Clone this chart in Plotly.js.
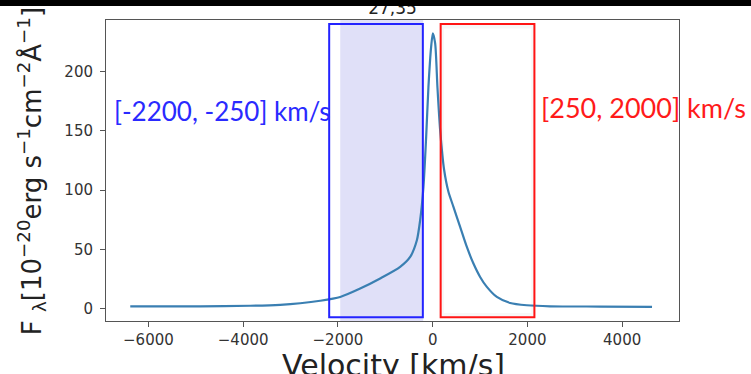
<!DOCTYPE html>
<html><head><meta charset="utf-8">
<script src="https://cdn.plot.ly/plotly-3.0.1.min.js"></script>
<style>
html,body{margin:0;padding:0;background:#fff;overflow:hidden}
#bar{position:absolute;left:0;top:0;width:751px;height:6px;background:#000;z-index:10}
#chart{width:751px;height:374px}
</style>
</head><body><div id="bar"></div><div id="chart"></div>
<script>
// Line profile (velocity in km/s, flux in 1e-20 erg s^-1 cm^-2 Å^-1)
const velocity = [-6383, -4906, -3851, -3218, -2796, -2374, -1951, -1530, -1108, -686, -475, -333, -264, -194, -137, -89, -32, 4, 53, 101, 158, 243, 333, 439, 580, 722, 861, 1002, 1144, 1355, 1636, 1988, 2479, 3534, 4631];
const flux = [1.9, 1.9, 2.4, 3.2, 4.5, 6.6, 9.8, 16.9, 25.4, 35.2, 43.6, 57.7, 74.6, 102.8, 145, 187, 221, 232.5, 224, 187, 150.7, 117, 98.6, 85.9, 69, 52, 38, 26.7, 18.3, 9.8, 4.7, 2.8, 1.9, 1.7, 1.5];

const chartTitle = "27,35";
const blueWindow = [-2184, -207];
const redWindow = [169, 2148];
const shadedWindow = [-1951, -200];
const boxFlux = [-7.4, 240.3];
const blueLabel = "[-2200, -250] km/s";
const redLabel = "[250, 2000] km/s";
const xTickVals = [-6000, -4000, -2000, 0, 2000, 4000];
const xTickText = ["\u22126000", "\u22124000", "\u22122000", "0", "2000", "4000"];
const yTickVals = [0, 50, 100, 150, 200];
const yTickText = ["0", "50", "100", "150", "200"];
const xTitle = "Velocity [km/s]";
const yTitle = "F <sub>\u03bb</sub>[10<sup>\u221220</sup>erg s<sup>\u22121</sup>cm<sup>\u22122</sup>\u00c5<sup>\u22121</sup>]";

const tickFont = {family: "DejaVu Sans", size: 15, color: "#333"};
const W = 751, H = 374, L = 106, R = 679, T = 20, B = 320.7;
const px = v => (v - L) / (R - L);
const py = v => (B - v) / (B - T);

const trace = {
  x: velocity, y: flux, type: "scatter", mode: "lines",
  line: {color: "#3a7fb2", width: 2.2, shape: "spline", smoothing: 0.7},
  hoverinfo: "skip", showlegend: false
};

const layout = {
  width: W, height: H,
  margin: {l: L, r: W - R, t: T, b: H - B, pad: 0},
  paper_bgcolor: "#fff", plot_bgcolor: "#fff",
  title: {text: chartTitle, font: {family: "DejaVu Sans", size: 17, color: "#222"},
          x: 0.5, xref: "paper", y: 0.962, yref: "container", yanchor: "bottom"},
  xaxis: {
    range: [-6895, 5200], tickvals: xTickVals, ticktext: xTickText,
    showgrid: false, zeroline: false, showline: true, mirror: true,
    linecolor: "#555", linewidth: 1, ticks: "outside", ticklen: 5, tickcolor: "#555",
    tickfont: tickFont
  },
  yaxis: {
    range: [-10.5, 243.7], tickvals: yTickVals, ticktext: yTickText,
    showgrid: false, zeroline: false, showline: true, mirror: true,
    linecolor: "#555", linewidth: 1, ticks: "outside", ticklen: 5, tickcolor: "#555",
    tickfont: tickFont, ticklabelstandoff: 4
  },
  shapes: [
    {type: "rect", xref: "x", yref: "y", x0: shadedWindow[0], x1: shadedWindow[1], y0: -10.5, y1: 243.7,
     fillcolor: "rgba(0,0,200,0.12)", line: {width: 0}, layer: "below"},
    {type: "rect", xref: "x", yref: "y", x0: redWindow[0] + 30, x1: redWindow[1] - 25, y0: boxFlux[0] + 2, y1: boxFlux[1] - 2,
     fillcolor: "rgba(0,0,0,0)", line: {color: "rgba(0,0,0,0.03)", width: 4}, layer: "above"},
    {type: "rect", xref: "x", yref: "y", x0: blueWindow[0], x1: blueWindow[1], y0: boxFlux[0], y1: boxFlux[1],
     fillcolor: "rgba(0,0,0,0)", line: {color: "#2323ff", width: 2}, layer: "above"},
    {type: "rect", xref: "x", yref: "y", x0: redWindow[0], x1: redWindow[1], y0: boxFlux[0], y1: boxFlux[1],
     fillcolor: "rgba(0,0,0,0)", line: {color: "#ff1414", width: 2}, layer: "above"}
  ],
  annotations: [
    {text: xTitle, xref: "paper", yref: "paper", x: px(393), y: py(345.5), xanchor: "center", yanchor: "top",
     showarrow: false, font: {family: "DejaVu Sans", size: 30, color: "#222"}},
    {text: yTitle, xref: "paper", yref: "paper", x: px(31), y: py(171), xanchor: "center", yanchor: "middle",
     textangle: -90, showarrow: false, font: {family: "DejaVu Sans", size: 26, color: "#222"}},
    {text: blueLabel, xref: "paper", yref: "paper", x: px(112), y: py(110.5),
     xanchor: "left", yanchor: "middle", showarrow: false,
     font: {family: "Lato", size: 26, color: "#2a2aff"}},
    {text: redLabel, xref: "paper", yref: "paper", x: px(539), y: py(107.5),
     xanchor: "left", yanchor: "middle", showarrow: false,
     font: {family: "Lato", size: 27, color: "#ff1a1a"}}
  ]
};

Plotly.newPlot("chart", [trace], layout, {displayModeBar: false, staticPlot: true});
</script>
</body></html>
